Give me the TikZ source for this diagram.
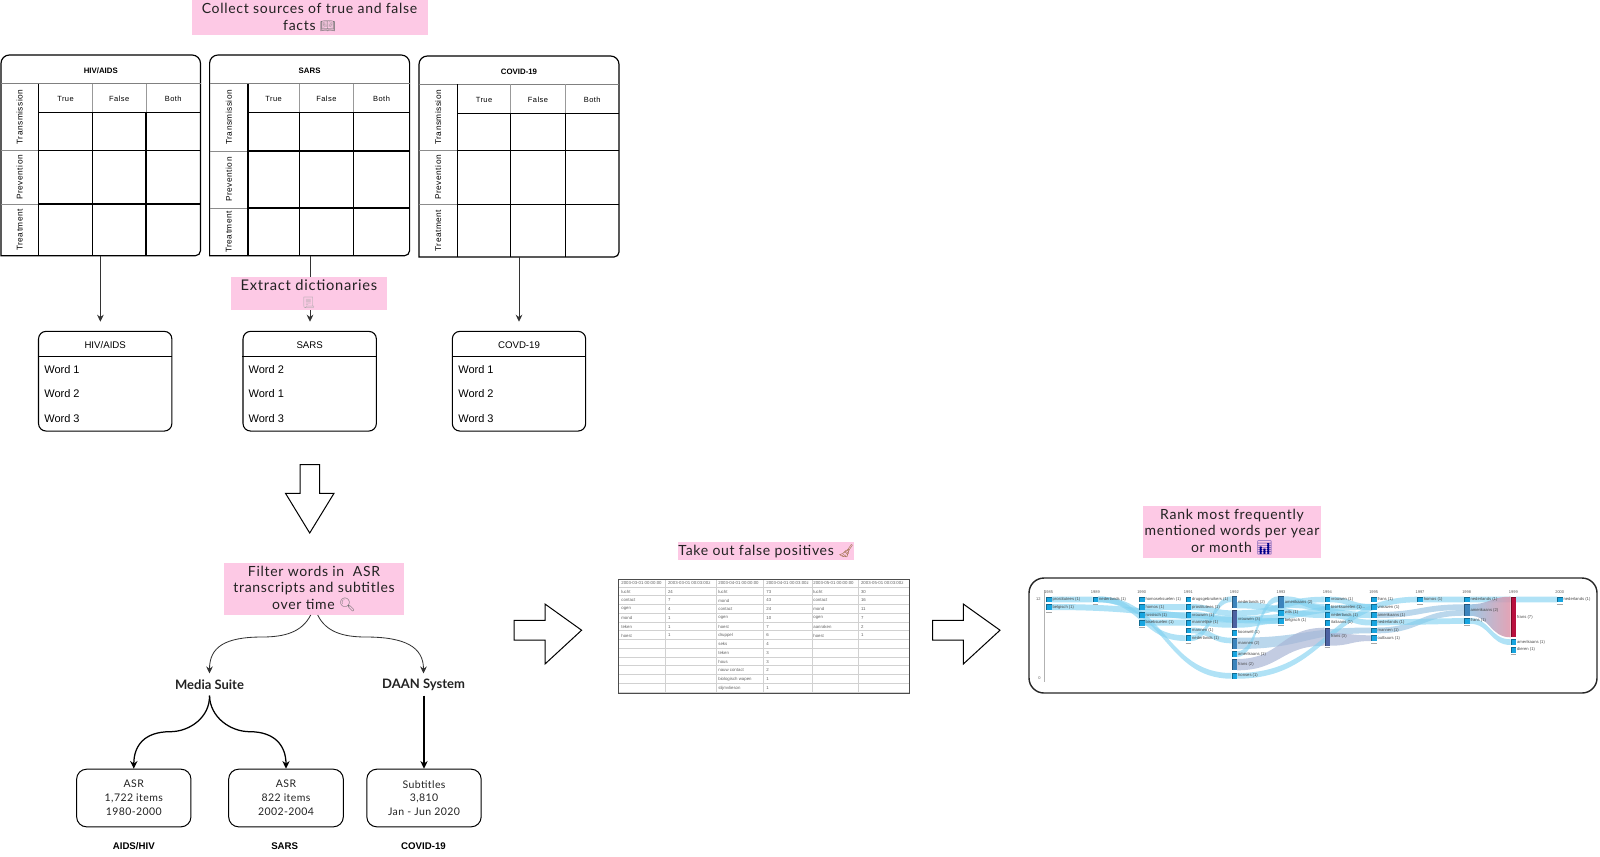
\documentclass[tikz,border=0pt]{standalone}
\usepackage{fontspec}
\usetikzlibrary{arrows.meta}
\setmainfont{Lato}
\newfontfamily\pinkf[LetterSpace=5]{Lato}
\newfontfamily\srcf[LetterSpace=4]{Lato}
\newfontfamily\arialf{Liberation Sans}
\newfontfamily\spacedf[LetterSpace=6]{Liberation Sans}
\newfontfamily\emof{Noto Emoji}
\definecolor{pinkbg}{HTML}{FDC9E5}
\definecolor{inkd}{HTML}{222222}
\definecolor{edge}{HTML}{333333}
\definecolor{bandb}{HTML}{7FD0F0}
\definecolor{bandm}{HTML}{8FBFE0}
\definecolor{bandf}{HTML}{A9B6D6}
\definecolor{nodeone}{HTML}{18A5E0}
\definecolor{nodetwo}{HTML}{3C84BC}
\definecolor{nodethree}{HTML}{4C62A2}
\definecolor{nodered}{HTML}{B8103E}
\tikzset{
  pinkbox/.style={fill=pinkbg,text=inkd,inner sep=0pt,align=center,font=\pinkf\fontsize{8.4}{10.2}\selectfont},
  conn/.style={draw=edge,line width=.5pt,-{Stealth[length=4.2pt,width=4pt]}},
  dictbox/.style={draw=black,rounded corners=4.5pt,line width=.65pt,inner sep=0pt},
  wordlab/.style={font=\arialf\fontsize{6.6}{8}\selectfont,anchor=west,inner sep=0pt,text=black},
  dicthead/.style={font=\arialf\fontsize{5.8}{7}\selectfont,inner sep=0pt,text=black},
  tabtitle/.style={font=\arialf\bfseries\fontsize{4.7}{6}\selectfont,inner sep=0pt},
  tabcol/.style={font=\spacedf\fontsize{4.5}{6}\selectfont,inner sep=0pt},
  tabrow/.style={font=\spacedf\fontsize{5}{6}\selectfont,inner sep=0pt,rotate=90},
  srcbox/.style={draw=black,rounded corners=6pt,line width=.6pt,align=center,inner sep=0pt,font=\srcf\fontsize{6.3}{8.3}\selectfont,text=inkd},
  sysnode/.style={font=\bfseries\fontsize{7.8}{9}\selectfont,inner sep=0pt,minimum height=12.9pt,text=inkd},
  corpus/.style={font=\arialf\bfseries\fontsize{5.8}{6}\selectfont,inner sep=0pt},
  blockar/.style={draw=black,line width=.6pt,fill=white,line join=miter},
  cell/.style={font=\arialf\fontsize{2.6}{3}\selectfont,text=black!62,anchor=west,inner sep=0pt},
  clab/.style={font=\arialf\fontsize{2.5}{3}\selectfont,text=black!72,anchor=west,inner sep=0pt},
  yearlab/.style={font=\arialf\fontsize{2.4}{3}\selectfont,text=black!65,inner sep=0pt},
  bflow/.style={fill=bandb,opacity=.62},
  mflow/.style={fill=bandm,opacity=.62},
  fflow/.style={fill=bandf,opacity=.7},
}
\newcommand{\flowband}[7][bflow]{%
  \pgfmathsetmacro\fxa{#2+2.8}\pgfmathsetmacro\fxb{#5-2.8}\pgfmathsetmacro\fxm{(\fxa+\fxb)/2}%
  \path[#1] (\fxa,#3) .. controls (\fxm,#3) and (\fxm,#6) .. (\fxb,#6) -- (\fxb,#7) .. controls (\fxm,#7) and (\fxm,#4) .. (\fxa,#4) -- cycle;}
\newcommand{\cnode}[6]{%
  \fill[#5] (#2-2.8,#3) rectangle (#2+2.8,#4);
  \fill[#5!65!black] (#2-2.8,#3) rectangle (#2-1.9,#4);
  \fill[#5!65!black] (#2-2.8,#3) rectangle (#2+2.8,#3+.8);
  \pgfmathsetmacro\cny{(#3+#4)/2}%
  \node[clab] (#1) at (#2+3.5,\cny) {#6};}
\begin{document}
\begin{tikzpicture}[x=0.6pt,y=-0.6pt]
\useasboundingbox (0,0) rectangle (1600,856);

% ---------- fact tables
\foreach \tn/\xa/\xb/\yt/\yb/\hd/\sbh/\lx/\ca/\cb/\Ra/\Rb/\ttl in {
  ta/1/200.5/55/255.7/83.5/112.7/38.5/92.5/146/150.7/204/{HIV/AIDS},
  tb/209.6/409.6/55/255.7/83.5/112.7/248/299.3/353.5/151/208/SARS,
  tc/419/619/56/257/84.3/113.3/457.5/510.5/565.5/150.3/204.3/COVID-19}{
  \draw[line width=.7pt,black] (\xa,\yb) [rounded corners=5pt] -- (\xa,\yt) -- (\xb,\yt) [rounded corners=3pt] -- (\xb,\yb) [sharp corners] -- cycle;
  \draw[black!50,line width=.75pt] (\xa,\hd) -- (\xb,\hd);
  \draw[black!45,line width=.55pt] (\xa,\Ra) -- (\lx,\Ra) (\xa,\Rb) -- (\lx,\Rb);
  \draw[black!40,line width=.5pt] (\ca,\hd) -- (\ca,\sbh) (\cb,\hd) -- (\cb,\sbh) (\lx,\sbh) -- (\ca,\sbh);
  \draw[black,line width=.7pt] (\lx,\hd) -- (\lx,\yb) (\ca,\sbh) -- (\ca,\yb) (\cb,\sbh) -- (\cb,\yb)
     (\lx,\sbh) -- (\xb,\sbh) (\lx,\Ra) -- (\xb,\Ra) (\lx,\Rb) -- (\xb,\Rb);
  \pgfmathsetmacro\mx{(\xa+\xb)/2}\pgfmathsetmacro\my{(\yt+\hd)/2+1.2}
  \node[tabtitle] (\tn-title) at (\mx,\my) {\ttl};
  \pgfmathsetmacro\hy{(\hd+\sbh)/2+1.2}
  \pgfmathsetmacro\hxa{(\lx+\ca)/2}\pgfmathsetmacro\hxb{(\ca+\cb)/2}\pgfmathsetmacro\hxc{(\cb+\xb)/2}
  \node[tabcol] (\tn-true) at (\hxa,\hy) {True};
  \node[tabcol] (\tn-false) at (\hxb,\hy) {False};
  \node[tabcol] (\tn-both) at (\hxc,\hy) {Both};
  \pgfmathsetmacro\rx{(\xa+\lx)/2}
  \pgfmathsetmacro\rya{(\hd+\Ra)/2}\pgfmathsetmacro\ryb{(\Ra+\Rb)/2}\pgfmathsetmacro\ryc{(\Rb+\yb)/2}
  \node[tabrow] (\tn-trans) at (\rx,\rya) {Transmission};
  \node[tabrow] (\tn-prev) at (\rx,\ryb) {Prevention};
  \node[tabrow] (\tn-treat) at (\rx,\ryc) {Treatment};
}
\node[pinkbox,minimum width=141.6pt,minimum height=21pt] (collect) at (309.5,17.5) {\raisebox{-.5pt}{Collect sources of true and false}\\facts {\emof\textcolor{black!55}{\fontsize{7.5}{9}\selectfont 📖}}};

% ---------- arrows to dictionaries
\coordinate (ta-out) at (100.4,256);
\coordinate (tb-out) at (310,256);
\coordinate (tc-out) at (519,257);
\coordinate (da-in) at (100.4,321.7);
\coordinate (db-in) at (310,321.7);
\coordinate (dc-in) at (519,321.7);
\draw[conn] (ta-out) -- (da-in);
\draw[conn] (tb-out) -- (db-in);
\draw[conn] (tc-out) -- (dc-in);
\node[pinkbox,minimum width=93.6pt,minimum height=19.6pt,font=\pinkf\fontsize{8.8}{10.2}\selectfont] (extract) at (309,293.7) {Extract dictionaries\\[-.5pt]{\emof\textcolor{black!35}{\fontsize{6.5}{8}\selectfont 📃}}};

% ---------- dictionaries
\foreach \dn/\cx/\tx/\ttl/\wa/\wb/\wc in {
  da/105.2/44/HIV{/}AIDS/Word 1/Word 2/Word 3,
  db/309.7/248.3/SARS/Word 2/Word 1/Word 3,
  dc/519/458/COVD-19/Word 1/Word 2/Word 3}{
  \node[dictbox,minimum width=80pt,minimum height=59.8pt] (\dn) at (\cx,381.2) {};
  \draw[black,line width=.6pt] (\dn.west |- 0,356.7) -- (\dn.east |- 0,356.7);
  \node[dicthead] (\dn-h) at (\cx,345) {\ttl};
  \node[wordlab] (\dn-a) at (\tx,369.3) {\wa};
  \node[wordlab] (\dn-b) at (\tx,394) {\wb};
  \node[wordlab] (\dn-c) at (\tx,418.7) {\wc};
}
% big down arrow
\draw[blockar] (300,464.7) -- (319.5,464.7) -- (319.5,493.3) -- (334,493.3) -- (309.7,533) -- (285.5,493.3) -- (300,493.3) -- cycle;

% ---------- filter section
\node[pinkbox,minimum width=108pt,minimum height=31.4pt] (filter) at (314,588.8) {\raisebox{-.5pt}{Filter words in\ \ ASR}\\transcripts and subtitles\\over time {\emof\textcolor{black!55}{\fontsize{8}{9}\selectfont 🔍}}};
\node[sysnode] (media) at (209.5,684.5) {Media Suite};
\node[sysnode] (daan) at (423.5,684.5) {DAAN System};
\coordinate (fa) at (310.7,615);
\coordinate (fb) at (317.7,615);
\draw[conn] (fa) .. controls (302,632) and (285,637) .. (262,637) .. controls (225,637) and (209.5,647) .. (media.north);
\draw[conn] (fb) .. controls (326,632) and (343,637) .. (366,637) .. controls (405,637) and (423.5,647) .. (daan.north);
\node[srcbox,minimum width=68.6pt,minimum height=34.6pt] (asra) at (133.8,798) {ASR\\1,722 items\\1980-2000};
\node[srcbox,minimum width=68.8pt,minimum height=34.6pt] (asrb) at (286,798) {ASR\\822 items\\2002-2004};
\node[srcbox,minimum width=68.6pt,minimum height=34.6pt] (subs) at (424,798) {Subtitles\\3,810\\Jan - Jun 2020};
\tikzset{sconn/.style={draw=black,line width=.75pt,-{Stealth[length=4.6pt,width=4.4pt]}}}
\draw[sconn] (media.south) .. controls (210,717) and (190,731.7) .. (170,731.7) .. controls (145,731.7) and (133.8,745) .. (asra.north);
\draw[sconn] (media.south) .. controls (210,717) and (230,731.7) .. (250,731.7) .. controls (274,731.7) and (286,745) .. (asrb.north);
\draw[sconn] (daan.south -| subs.north) -- (subs.north);
\node[corpus] (la) at (133.8,846) {AIDS/HIV};
\node[corpus] (lb) at (284.7,846) {SARS};
\node[corpus] (lc) at (423.5,846) {COVID-19};

% ---------- block arrows
\draw[blockar] (514,620.4) -- (545,620.4) -- (545,604) -- (581.6,630.2) -- (545,664) -- (545,640) -- (514,640) -- cycle;
\draw[blockar] (932.6,620.4) -- (963.3,620.4) -- (963.3,604) -- (1000,630.2) -- (963.3,664) -- (963.3,640) -- (932.6,640) -- cycle;

% ---------- table of counts
\node[pinkbox,minimum width=105.4pt,minimum height=10.6pt] (falsepos) at (766.2,551.2) {Take out false positives {\emof\textcolor{brown!75!black}{\fontsize{7.5}{9}\selectfont 🧹}}};
\foreach \k in {0,...,12}{\draw[black!18,line width=.35pt] (618,587+8.75*\k) -- (909,587+8.75*\k);}
\foreach \cx in {665.7,716.3,763,812.3,858.3}{\draw[black!18,line width=.35pt] (\cx,579) -- (\cx,693);}
\draw[black!70,line width=.55pt] (618,579) rectangle (909,693);
\foreach \cx/\ctext [count=\ci] in {621/2003-03-01 00:00:00,667.7/2003-03-01 00:03:00z,718/2003-04-01 00:00:00,766/2003-04-01 00:03:00z,813/2003-05-01 00:00:00,860.7/2003-05-01 00:03:00z}
  {\node[cell] (hdr\ci) at (\cx,583) {\ctext};}
\foreach \cx/\cells [count=\ci] in {
  621/{lucht,contact,ogen,mond,teken,hoest},
  667.7/{24,7,4,1,1,1},
  718/{lucht,mond,contact,ogen,hoest,druppel,seks,teken,hous,nauw contact,biologisch wapen,slijmvlieson},
  766/{73,43,24,10,7,6,4,3,3,2,1,1},
  813/{lucht,contact,mond,ogen,aanraken,hoest},
  860.7/{30,16,11,7,2,1}}{
  \foreach \ctext [count=\cj] in \cells {
    \pgfmathsetmacro\cy{591.7+8.75*(\cj-1)}
    \node[cell] (c\ci-\cj) at (\cx,\cy) {\ctext};
  }
}

% ---------- ranking chart
\node[pinkbox,minimum width=106.8pt,minimum height=31.2pt] (rank) at (1232,532) {\raisebox{-.5pt}{Rank most frequently}\\mentioned words per year\\or month {\emof\textcolor{blue!55!black}{\fontsize{8}{9}\selectfont 📊}}};
\draw[black!85,line width=.85pt,rounded corners=9pt] (1029,578) rectangle (1597,693);
\draw[black!30,line width=.5pt] (1044.3,590) -- (1044.3,682);
\node[yearlab,anchor=east] (y12) at (1041,599.3) {12};
\node[yearlab,anchor=east] (y0) at (1041,678) {0};
\foreach \yx/\yy [count=\yi] in {1048.7/1985,1095.3/1989,1141.7/1990,1188.3/1991,1234.3/1992,1281/1993,1327.3/1994,1373.7/1995,1420/1997,1466.7/1998,1513.3/1999,1559.7/2000}
  {\node[yearlab] (yr\yi) at (\yx,591.7) {\yy};}

% flows
\flowband{1048.7}{596.5}{602.3}{1095.3}{596.5}{602.3}
\flowband{1048.7}{604}{610}{1281}{618}{623.7}
\flowband{1095.3}{596.5}{602.3}{1188.3}{635.3}{641}
\flowband{1095.3}{596.5}{602.3}{1234.3}{673}{678.7}
\flowband{1141.7}{604}{610}{1188.3}{604}{610}
\flowband{1141.7}{612}{618}{1188.3}{612}{618}
\flowband{1141.7}{619.7}{625.5}{1188.3}{619.7}{625.5}
\flowband{1188.3}{604}{610}{1234.3}{610.3}{616}
\flowband{1188.3}{612}{618}{1234.3}{616}{622}
\flowband{1188.3}{619.7}{625.5}{1234.3}{622}{627.7}
\flowband{1188.3}{627.5}{633.3}{1234.3}{637.7}{643.3}
\flowband{1188.3}{635.3}{641}{1234.3}{596.3}{602}
\flowband{1234.3}{602}{608.3}{1327.3}{612}{618}
\flowband{1234.3}{610.3}{616}{1327.3}{596.7}{602.3}
\flowband{1234.3}{616}{622}{1373.7}{604}{610}
\flowband{1234.3}{622}{627.7}{1281}{618}{623.7}
\flowband[mflow]{1234.3}{637.7}{649}{1373.7}{627.5}{633.3}
\flowband{1234.3}{651.3}{657}{1281}{596.3}{602}
\flowband[fflow]{1234.3}{659}{670.3}{1327.3}{627.7}{645.7}
\flowband{1234.3}{673}{678.7}{1420}{596.7}{602.3}
\flowband{1281}{596.3}{602}{1327.3}{604}{610}
\flowband{1281}{602}{607.7}{1373.7}{612}{618}
\flowband{1327.3}{596.7}{602.3}{1373.7}{604}{610}
\flowband{1327.3}{612}{618}{1373.7}{619.7}{625.5}
\flowband[fflow]{1327.3}{633}{645.7}{1373.7}{635.3}{641}
\flowband[mflow]{1373.7}{612}{618}{1466.7}{604.3}{610}
\flowband[mflow]{1373.7}{627.5}{633.3}{1466.7}{610}{615.7}
\flowband{1373.7}{619.7}{625.5}{1466.7}{618}{623.7}
\flowband{1420}{596.7}{602.3}{1466.7}{596.7}{602.3}
\flowband{1466.7}{596.7}{602.3}{1513.3}{596.7}{602.3}
\flowband{1466.7}{618}{623.7}{1513.3}{639.3}{645}
\flowband{1513.3}{596.7}{602.3}{1559.7}{596.7}{602.3}
\shade[left color=bandm,right color=nodered!45,opacity=.85] (1469.5,604.3) .. controls (1490,604.3) and (1490,596.7) .. (1510.5,596.7) -- (1510.5,637.3) .. controls (1490,637.3) and (1490,615.7) .. (1469.5,615.7) -- cycle;

% chart nodes
\cnode{n1}{1048.7}{596.5}{602.3}{nodeone}{prostitutees (1)}
\cnode{n2}{1048.7}{604}{610}{nodeone}{belgisch (1)}
\cnode{n3}{1095.3}{596.5}{602.3}{nodeone}{nederlands (1)}
\cnode{n4}{1141.7}{596.5}{602.3}{nodeone}{homoseksuelen (1)}
\cnode{n5}{1141.7}{604}{610}{nodeone}{homos (1)}
\cnode{n6}{1141.7}{612}{618}{nodeone}{russisch (1)}
\cnode{n7}{1141.7}{619.7}{625.5}{nodeone}{biseksuelen (1)}
\cnode{n8}{1188.3}{596.5}{602.3}{nodeone}{drugsgebruikers (1)}
\cnode{n9}{1188.3}{604}{610}{nodeone}{prostitutees (1)}
\cnode{n10}{1188.3}{612}{618}{nodeone}{vrouwen (1)}
\cnode{n11}{1188.3}{619.7}{625.5}{nodeone}{mannelijke (1)}
\cnode{n12}{1188.3}{627.5}{633.3}{nodeone}{mannen (1)}
\cnode{n13}{1188.3}{635.3}{641}{nodeone}{nederlands (1)}
\cnode{n14}{1234.3}{596.3}{608.3}{nodetwo}{nederlands (2)}
\cnode{n15}{1234.3}{610.3}{627.7}{nodethree}{vrouwen (3)}
\cnode{n16}{1234.3}{630}{635.7}{nodeone}{koorwell (1)}
\cnode{n17}{1234.3}{637.7}{649}{nodetwo}{mannen (2)}
\cnode{n18}{1234.3}{651.3}{657}{nodeone}{amerikaans (1)}
\cnode{n19}{1234.3}{659}{670.3}{nodetwo}{frans (2)}
\cnode{n20}{1234.3}{673}{678.7}{nodeone}{honses (1)}
\cnode{n21}{1281}{596.3}{607.7}{nodetwo}{amerikaans (2)}
\cnode{n22}{1281}{610}{615.7}{nodeone}{wits (1)}
\cnode{n23}{1281}{618}{623.7}{nodeone}{belgisch (1)}
\cnode{n24}{1327.3}{596.7}{602.3}{nodeone}{vrouwen (1)}
\cnode{n25}{1327.3}{604.3}{610}{nodeone}{biseksueelen (1)...}
\cnode{n26}{1327.3}{612}{618}{nodeone}{nederlands (1)}
\cnode{n27}{1327.3}{619.7}{625.5}{nodeone}{italiaans (1)}
\cnode{n28}{1327.3}{627.7}{645.7}{nodethree}{frans (3)}
\cnode{n29}{1373.7}{596.7}{602.3}{nodeone}{frans (1)}
\cnode{n30}{1373.7}{604.3}{610}{nodeone}{vrouwen (1)}
\cnode{n31}{1373.7}{612}{618}{nodeone}{amerikaans (1)}
\cnode{n32}{1373.7}{619.7}{625.5}{nodeone}{nederlands (1)}
\cnode{n33}{1373.7}{627.5}{633.3}{nodeone}{mannen (1)}
\cnode{n34}{1373.7}{635.3}{641}{nodeone}{outbuurs (1)}
\cnode{n35}{1420}{596.7}{602.3}{nodeone}{homos (1)}
\cnode{n36}{1466.7}{596.7}{602.3}{nodeone}{nederlands (1)}
\cnode{n37}{1466.7}{604.3}{615.7}{nodetwo}{amerikaans (2)}
\cnode{n38}{1466.7}{618}{623.7}{nodeone}{frans (1)}
\cnode{n39}{1513.3}{596.7}{637.3}{nodered}{frans (7)}
\cnode{n40}{1513.3}{639.3}{645}{nodeone}{amerikaans (1)}
\cnode{n41}{1513.3}{647}{652.7}{nodeone}{dieren (1)}
\cnode{n42}{1559.7}{596.7}{602.3}{nodeone}{nederlands (1)}
\foreach \ux/\uy in {1048.7/612,1095.3/604,1141.7/627.5,1188.3/643,1281/625.7,1327.3/647.7,1373.7/643,1420/604.3,1466.7/625.7,1513.3/654.7,1559.7/604.3}
  {\draw[black!35,line width=.45pt] (\ux-2.8,\uy) -- (\ux+2.8,\uy);}
\end{tikzpicture}
\end{document}
